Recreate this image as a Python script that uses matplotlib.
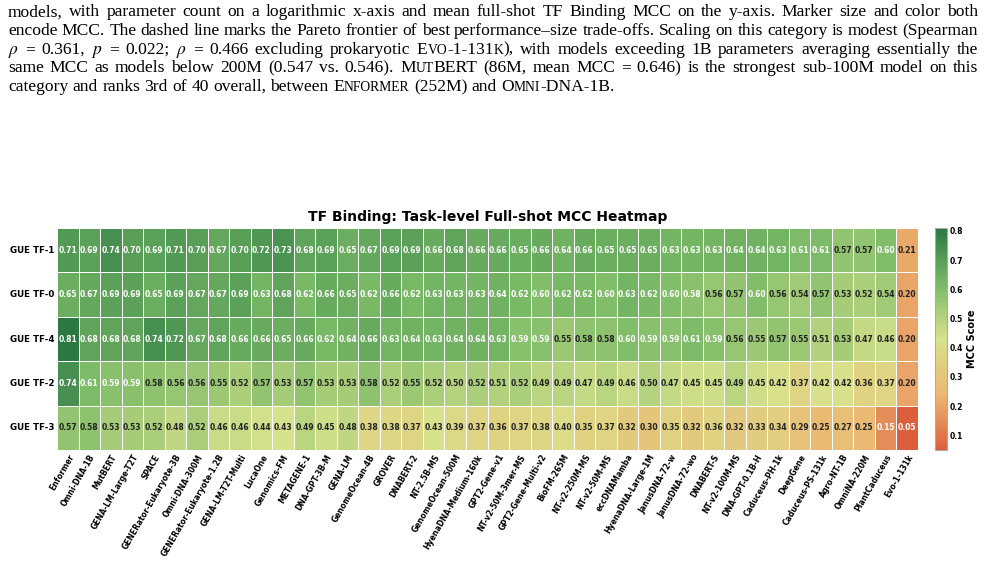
# TF Binding heatmap (task-level full-shot MCC) with the paper caption above it
import matplotlib
matplotlib.use('Agg')
import matplotlib.pyplot as plt
import seaborn as sns
import numpy as np
import pandas as pd
from matplotlib.colors import LinearSegmentedColormap

# --- data ---
models = ['Enformer', 'Omni-DNA-1B', 'MutBERT', 'GENA-LM-Large-T2T', 'SPACE',
          'GENERator-Eukaryote-3B', 'Omni-DNA-300M', 'GENERator-Eukaryote-1.2B',
          'GENA-LM-T2T-Multi', 'LucaOne', 'Genomics-FM', 'METAGENE-1', 'DNA-GPT-3B-M',
          'GENA-LM', 'GenomeOcean-4B', 'GROVER', 'DNABERT-2', 'NT-2.5B-MS',
          'GenomeOcean-500M', 'HyenaDNA-Medium-160k', 'GPT2-Gene-v1', 'NT-v2-50M-3mer-MS',
          'GPT2-Gene-Multi-v2', 'BioFM-265M', 'NT-v2-250M-MS', 'NT-v2-50M-MS',
          'eccDNAMamba', 'HyenaDNA-Large-1M', 'JanusDNA-72-w', 'JanusDNA-72-wo',
          'DNABERT-S', 'NT-v2-100M-MS', 'DNA-GPT-0.1B-H', 'Caduceus-PH-1k', 'DeepGene',
          'Caduceus-PS-131k', 'Agro-NT-1B', 'OmniNA-220M', 'PlantCaduceus', 'Evo-1-131k']

tasks = ['GUE TF-1', 'GUE TF-0', 'GUE TF-4', 'GUE TF-2', 'GUE TF-3']

mcc_tf1 = [0.71, 0.69, 0.74, 0.70, 0.69, 0.71, 0.70, 0.67, 0.70, 0.72,
           0.73, 0.68, 0.69, 0.65, 0.67, 0.69, 0.69, 0.66, 0.68, 0.66,
           0.66, 0.65, 0.66, 0.64, 0.66, 0.65, 0.65, 0.65, 0.63, 0.63,
           0.63, 0.64, 0.64, 0.63, 0.61, 0.61, 0.57, 0.57, 0.60, 0.21]
mcc_tf0 = [0.65, 0.67, 0.69, 0.69, 0.65, 0.69, 0.67, 0.67, 0.69, 0.63,
           0.68, 0.62, 0.66, 0.65, 0.62, 0.66, 0.62, 0.63, 0.63, 0.63,
           0.64, 0.62, 0.60, 0.62, 0.62, 0.60, 0.63, 0.62, 0.60, 0.582,
           0.56, 0.57, 0.60, 0.56, 0.54, 0.57, 0.53, 0.52, 0.54, 0.20]
mcc_tf4 = [0.81, 0.68, 0.68, 0.68, 0.74, 0.72, 0.67, 0.68, 0.66, 0.66,
           0.65, 0.66, 0.62, 0.64, 0.66, 0.63, 0.64, 0.63, 0.64, 0.64,
           0.63, 0.59, 0.59, 0.55, 0.578, 0.578, 0.60, 0.59, 0.59, 0.61,
           0.59, 0.56, 0.55, 0.57, 0.55, 0.51, 0.53, 0.47, 0.46, 0.20]
mcc_tf2 = [0.74, 0.61, 0.59, 0.59, 0.578, 0.56, 0.56, 0.55, 0.52, 0.57,
           0.53, 0.57, 0.53, 0.53, 0.578, 0.52, 0.55, 0.52, 0.50, 0.52,
           0.51, 0.52, 0.49, 0.49, 0.47, 0.49, 0.46, 0.50, 0.47, 0.45,
           0.45, 0.49, 0.45, 0.42, 0.37, 0.42, 0.42, 0.36, 0.37, 0.20]
mcc_tf3 = [0.57, 0.58, 0.53, 0.53, 0.52, 0.48, 0.52, 0.46, 0.46, 0.44,
           0.43, 0.49, 0.45, 0.48, 0.38, 0.38, 0.37, 0.43, 0.39, 0.37,
           0.36, 0.37, 0.38, 0.40, 0.35, 0.37, 0.32, 0.30, 0.35, 0.32,
           0.36, 0.32, 0.33, 0.34, 0.29, 0.25, 0.27, 0.25, 0.15, 0.05]

caption_lines = [
    "models, with parameter count on a logarithmic x-axis and mean full-shot TF Binding MCC on the y-axis. Marker size and color both",
    "encode MCC. The dashed line marks the Pareto frontier of best performance\u2013size trade-offs. Scaling on this category is modest (Spearman",
    "$\\rho$ = 0.361, $p$ = 0.022; $\\rho$ = 0.466 excluding prokaryotic Evo-1-131k), with models exceeding 1B parameters averaging essentially the",
    "same MCC as models below 200M (0.547 vs. 0.546). MutBERT (86M, mean MCC = 0.646) is the strongest sub-100M model on this",
    "category and ranks 3rd of 40 overall, between Enformer (252M) and Omni-DNA-1B.",
]
smallcaps_names = ['Evo-1-131k', 'MutBERT', 'Enformer', 'Omni-DNA-1B']

# --- config ---
W, H = 985, 562
plt.rcParams['mathtext.fontset'] = 'stix'
SERIF = 'Liberation Serif'
CAP_SIZE = 12.6

df = pd.DataFrame([mcc_tf1, mcc_tf0, mcc_tf4, mcc_tf2, mcc_tf3], index=tasks, columns=models)

cmap = LinearSegmentedColormap.from_list(
    'mcc', ['#dc5f3d', '#ebb872', '#d8e28c', '#79b966', '#2b7843'])


def fx(px):
    return px / W


def fy(py):
    return 1 - py / H


def split_smallcaps(word):
    """split a word into (text, is_small) runs, small caps for model names"""
    for name in smallcaps_names:
        i = word.find(name)
        if i >= 0:
            runs = []
            if i > 0:
                runs.append((word[:i], False))
            cur, cur_small = '', None
            for ch in name:
                small = ch.islower()
                c = ch.upper() if small else ch
                if cur_small is None or small == cur_small:
                    cur += c
                else:
                    runs.append((cur, cur_small))
                    cur = c
                cur_small = small
            runs.append((cur, cur_small))
            rest = word[i + len(name):]
            if rest:
                runs.append((rest, False))
            return runs
    return [(word, False)]


def draw_caption(fig, lines, x0, x1, base0, pitch):
    r = fig.canvas.get_renderer()
    space = CAP_SIZE * 100 / 72 * 0.25
    for k, line in enumerate(lines):
        y = fy(base0 + k * pitch)
        words = []
        for w in line.split(' '):
            arts, wds = [], []
            for seg, small in split_smallcaps(w):
                t = fig.text(0, y, seg, fontsize=CAP_SIZE * (0.78 if small else 1.0),
                             family=SERIF, va='baseline', ha='left')
                arts.append(t)
                wds.append(t.get_window_extent(r).width)
            words.append((arts, wds))
        total = sum(sum(wd) for _, wd in words)
        last = (k == len(lines) - 1)
        gap = space if last else (x1 - x0 - total) / (len(words) - 1)
        x = x0
        for arts, wds in words:
            for a, wd in zip(arts, wds):
                a.set_x(fx(x))
                x += wd
            x += gap


# --- figure ---
fig = plt.figure(figsize=(W / 100, H / 100), dpi=100)

draw_caption(fig, caption_lines, 8, 978, 16.5, 18.6)

ax = fig.add_axes([fx(57), fy(450), fx(918) - fx(57), fy(228) - fy(450)])
cax = fig.add_axes([fx(935), fy(450), fx(947) - fx(935), fy(228) - fy(450)])

sns.heatmap(df, ax=ax, cbar_ax=cax, cmap=cmap, annot=False,
            linewidths=0.5, linecolor='white')

vals = df.values
for i in range(vals.shape[0]):
    for j in range(vals.shape[1]):
        v = vals[i, j]
        col = 'white' if (v > 0.58 or v < 0.18) else '#222222'
        ax.text(j + 0.5, i + 0.5, f"{v:.2f}", ha='center', va='center',
                fontsize=5.5, fontweight='bold', color=col)

ax.set_xticks(np.arange(len(models)) + 0.5)
ax.set_xticklabels(models, rotation=60, ha='right', rotation_mode='anchor',
                   fontsize=5.5, fontweight='bold')
ax.set_yticks(np.arange(len(tasks)) + 0.5)
ax.set_yticklabels(tasks, rotation=0, fontsize=6.3, fontweight='bold')
ax.tick_params(axis='both', length=0, pad=2)
ax.set_xlabel('')
ax.set_ylabel('')
ax.set_title('TF Binding: Task-level Full-shot MCC Heatmap', fontsize=10,
             fontweight='bold', pad=5)

cax.tick_params(labelsize=5.5, length=0, pad=2)
for t in cax.get_yticklabels():
    t.set_fontweight('bold')
cax.set_ylabel('MCC Score', fontsize=7, fontweight='bold', labelpad=3)
cbar = ax.collections[0].colorbar
cbar.outline.set_visible(True)
cbar.outline.set_edgecolor('#aaaaaa')
cbar.outline.set_linewidth(0.8)

fig.savefig('out.png', dpi=100)
